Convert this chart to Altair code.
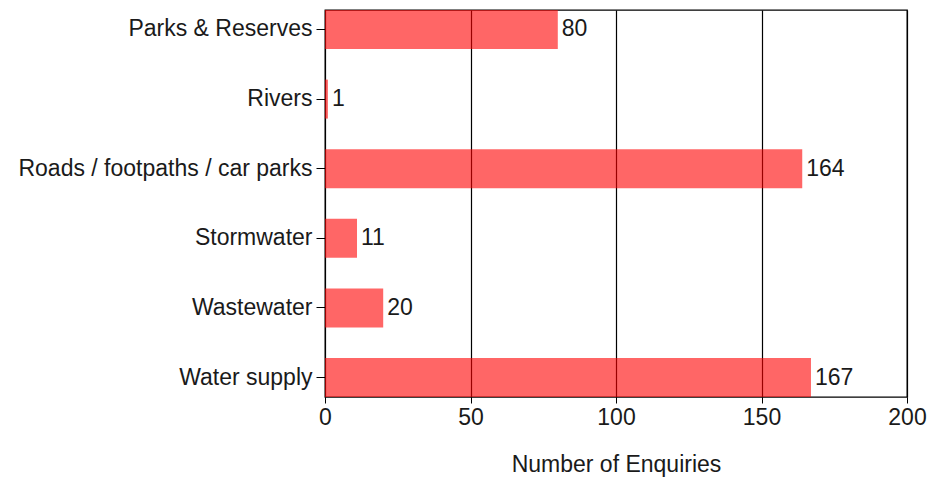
import altair as alt
import pandas as pd

categories = ["Parks & Reserves", "Rivers", "Roads / footpaths / car parks",
              "Stormwater", "Wastewater", "Water supply"]
values = [80, 1, 164, 11, 20, 167]

df = pd.DataFrame({"category": categories, "count": values})

FONT = "Liberation Sans"
FS = 23
TXT = "#1a1a1a"

base = alt.Chart(df).encode(
    y=alt.Y("category:N", sort=categories,
            scale=alt.Scale(paddingInner=0.44, paddingOuter=0),
            axis=alt.Axis(title=None, grid=False, domain=False, ticks=True,
                          tickSize=9, tickColor="black", labelPadding=4,
                          labelLimit=500,
                          labelFont=FONT, labelFontSize=FS, labelColor=TXT)),
)

bars = base.mark_bar(color="#ff0000", opacity=0.6).encode(
    x=alt.X("count:Q", scale=alt.Scale(domain=[0, 200], nice=False),
            axis=alt.Axis(title="Number of Enquiries", values=[0, 50, 100, 150, 200],
                          grid=True, gridColor="black", gridOpacity=1, gridWidth=1.2,
                          domain=False, tickSize=6, tickColor="black",
                          labelFlush=False, labelOverlap=False,
                          labelFont=FONT, labelFontSize=FS, labelColor=TXT,
                          labelPadding=3, titleFont=FONT, titleFontSize=FS,
                          titleFontWeight="normal", titleColor=TXT,
                          titlePadding=24))
)

labels = base.mark_text(align="left", baseline="middle", dx=4, font=FONT,
                        fontSize=FS, color=TXT).encode(
    x=alt.X("count:Q"),
    text=alt.Text("count:Q"),
)

chart = (bars + labels).properties(
    width=582, height=387,
    autosize=alt.AutoSizeParams(type="none"),
    padding={"left": 317, "top": 2, "right": 20, "bottom": 82},
).configure_view(stroke="black", strokeWidth=1.3)

chart.save("out.html", embed_options={"renderer": "svg", "actions": False})
